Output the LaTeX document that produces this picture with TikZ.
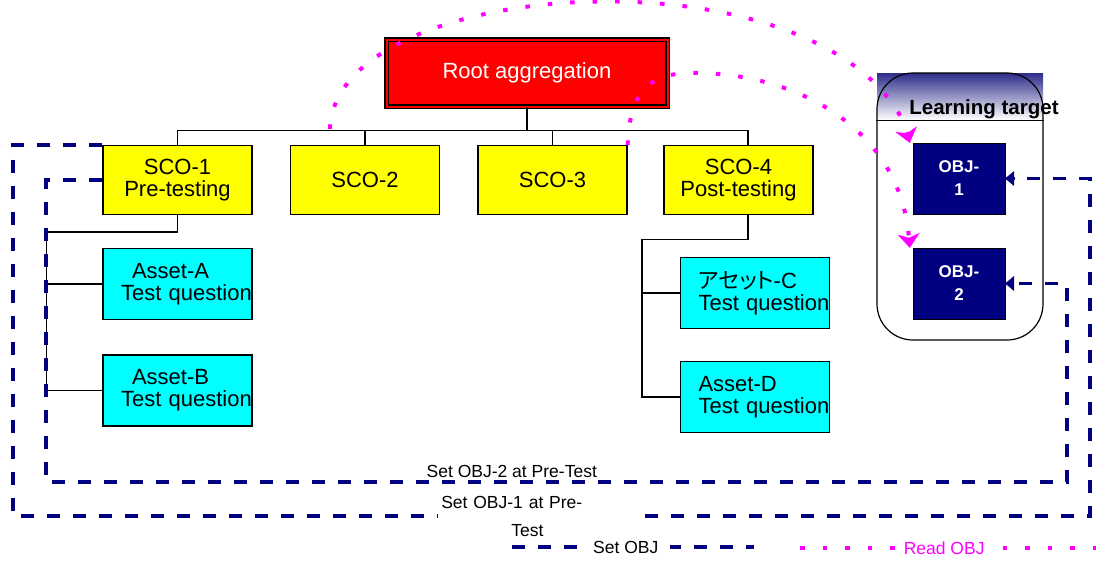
\documentclass[tikz,border=0pt]{standalone}
\usepackage{fontspec}
\setmainfont{Liberation Sans}
\newfontfamily\jpfont{Noto Sans CJK JP}[RawFeature=+palt]
\usetikzlibrary{arrows.meta,positioning}
\definecolor{navyobj}{RGB}{0,0,128}
\definecolor{readpink}{RGB}{255,0,255}
\definecolor{headblue}{RGB}{45,45,140}
\definecolor{scoyellow}{RGB}{255,255,0}
\definecolor{assetcyan}{RGB}{0,255,255}
\definecolor{rootred}{RGB}{255,0,0}

\begin{document}
\begin{tikzpicture}[x=1pt,y=-1pt,node distance=187.5pt,
  root node/.style={rectangle,fill=rootred,draw=black,double=rootred,double distance=2pt,
  line width=1.2pt,minimum width=281pt,minimum height=67pt,text=white,
  font=\fontsize{22}{24}\selectfont},
  sco node/.style={rectangle,fill=scoyellow,draw,line width=1.3pt,minimum width=149pt,
  minimum height=69pt,align=center,inner sep=0pt,font=\fontsize{22}{22}\selectfont},
  asset node/.style={rectangle,fill=assetcyan,draw,line width=1.3pt,text width=113pt,
  inner xsep=18pt,minimum height=71pt,align=left,font=\fontsize{22}{22}\selectfont},
  obj node/.style={rectangle,fill=navyobj,draw=black,minimum width=92pt,
  minimum height=71pt,align=center,text=white,font=\bfseries\fontsize{17}{23}\selectfont},
  tree/.style={line width=1.6pt},
  set obj/.style={navyobj,line width=3.8pt,dash pattern=on 13pt off 13pt},
  read obj/.style={readpink,line width=4pt,dash pattern=on 4.5pt off 18pt},
  small label/.style={font=\fontsize{17.5}{19}\selectfont,inner sep=2pt}]

  \useasboundingbox (0,0) rectangle (1096,563);

  %Learning target container with its shaded header%
  \shade[top color=headblue,bottom color=white] (877,73) rectangle (1043,120);
  \node[draw,rounded corners=36pt,line width=1.2pt,minimum width=166pt,
    minimum height=267pt] (LT) at (960,206.5) {};
  \coordinate (hdr) at (0,120);
  \draw[line width=1pt] (LT.west |- hdr) -- (LT.east |- hdr);
  \node[font=\bfseries\fontsize{20.5}{22}\selectfont] (LTtitle) at (984,109) {Learning target};

  \node[obj node] (O1) at (959,178.5) {OBJ-\\1};
  \node[obj node,node distance=105pt] (O2) [below of=O1] {OBJ-\\2};

  %Course tree%
  \node[root node] (R) at (527,73) {Root aggregation};
  \node[sco node] (S1) at (177.5,180) {SCO-1\\Pre-testing};
  \node[sco node] (S2) [right of=S1] {SCO-2};
  \node[sco node] (S3) [right of=S2] {SCO-3};
  \node[sco node,node distance=186pt] (S4) [right of=S3] {SCO-4\\Post-testing};

  \node[asset node,node distance=104pt] (A) [below of=S1] {\hspace*{11pt}Asset-A\\\mbox{Test question}};
  \node[asset node,node distance=106.5pt] (B) [below of=A] {\hspace*{11pt}Asset-B\\\mbox{Test question}};
  \node[asset node] (C) at (755,293) {{\jpfont アセット}-C\\\mbox{Test question}};
  \node[asset node,node distance=104pt] (D) [below of=C] {Asset-D\\\mbox{Test question}};

  %Root to the SCOs%
  \coordinate (bus) at ([yshift=-23.5pt]R.south);
  \draw[tree] (R.south) -- (bus);
  \draw[tree] (bus) -| (S1.north);
  \draw[tree] (bus) -| (S2.north);
  \draw[tree] (bus) -| (S3.north);
  \draw[tree] (bus) -| ([xshift=9.5pt]S4.north);

  %SCO-1 to its assets%
  \draw[tree] (S1.south) -- ++(0,17) -| ([xshift=-56pt]A.west) |- (A.west);
  \draw[tree] ([xshift=-56pt]A.west) |- (B.west);
  %SCO-4 to its assets%
  \draw[tree] ([xshift=9.5pt]S4.south) -- ++(0,24.5) -| ([xshift=-38pt]C.west) |- (C.west);
  \draw[tree] ([xshift=-38pt]C.west) |- (D.west);

  %Set OBJ lines from SCO-1 back to the targets%
  \draw[set obj,-{Triangle[width=15pt,length=9pt,line width=0.5pt]}] (S1.north west) -- ++(-89,0)
    |- node[pos=0.744,small label,text=black,fill=white,text width=195pt,inner xsep=3pt,
      align=left,font=\fontsize{17.5}{28}\selectfont] {Set OBJ-1 at Pre-\\\hspace*{70pt}Test} (1090,516)
    |- (O1.east);
  \draw[set obj,-{Triangle[width=15pt,length=9pt,line width=0.5pt]}] (S1.west) -- ++(-56,0)
    |- node[pos=0.728,above,small label,text=black] {Set OBJ-2 at Pre-Test} (1067,482)
    |- (O2.east);

  %Read OBJ curves%
  \draw[read obj,-{Stealth[width=22pt,length=14pt,inset=4pt,line width=0.5pt]}]
    ([xshift=-35pt,yshift=16pt]S2.north) .. controls (335,-25) and (820,-55) .. (905,125)
    -- ([xshift=-3pt]O1.north west);
  \draw[read obj,-{Stealth[width=22pt,length=14pt,inset=4pt,line width=0.5pt]}]
    (S3.north east) .. controls (630,80) and (660,72) .. (700,73)
    .. controls (800,75) and (900,130) .. ([xshift=-3pt]O2.north west);

  %Legend%
  \coordinate (setA) at (512,547);
  \coordinate (setB) at (754,547);
  \coordinate (readA) at (800,548);
  \coordinate (readB) at (1096,548);
  \draw[set obj] (setA) -- node[pos=0.47,small label,text=black,fill=white,inner xsep=12pt] {Set OBJ} (setB);
  \draw[read obj] (readA) -- node[pos=0.487,small label,fill=white,inner xsep=8pt] {Read OBJ} (readB);

\end{tikzpicture}
\end{document}
